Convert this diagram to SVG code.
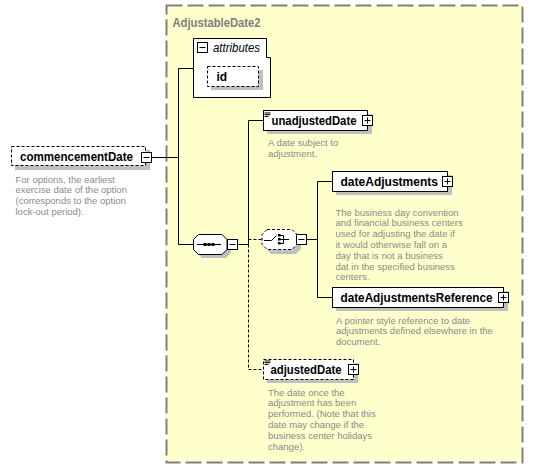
<svg xmlns="http://www.w3.org/2000/svg" width="533" height="469" viewBox="0 0 533 469">
<style>
.bg{fill:#FFFFFF}
.cont{fill:#FFFFCC;stroke:#808080;stroke-width:2;stroke-dasharray:16,5}
.title{font-family:"Liberation Sans",Arial,sans-serif;font-weight:bold;font-size:12px;fill:#808080}
.box{fill:#FFFFFF;stroke:#000000;stroke-width:1}
.dbox{fill:#FFFFFF;stroke:#000000;stroke-width:1;stroke-dasharray:3,2}
.shadow{fill:#C0C0C0}
.lbl{font-family:"Liberation Sans",Arial,sans-serif;font-weight:bold;font-size:12px;fill:#000000}
.ital{font-family:"Liberation Sans",Arial,sans-serif;font-style:italic;font-size:12px;fill:#000000}
.desc{font-family:"Liberation Sans",Arial,sans-serif;font-size:9.5px;fill:#8A8A8A}
.ln{fill:none;stroke:#000000;stroke-width:1}
.dln{fill:none;stroke:#000000;stroke-width:1;stroke-dasharray:3,2}
.btn{fill:#FFFFFF;stroke:#000000;stroke-width:1}
</style>
<defs>
<g id="minus"><rect class="btn" x="0" y="0" width="10" height="10"/><path class="ln" d="M2,5H8"/></g>
<g id="plus"><rect class="btn" x="0" y="0" width="10" height="10"/><path class="ln" d="M2,5H8M5,2V8"/></g>
<g id="mark"><path class="ln" d="M0,0H6M0,1.7H6M0,3.4H4"/></g>
</defs>
<rect class="bg" x="0" y="0" width="533" height="469"/>

<g id="AdjustableDate2">
<rect class="cont" x="166.5" y="5.5" width="356" height="457"/>
<text class="title" x="172.5" y="26.5" textLength="88" lengthAdjust="spacingAndGlyphs">AdjustableDate2</text>
</g>

<g id="connectors">
<path class="ln" d="M151,157.5H178.5M178.5,68.5V244.5M178.5,68.5H193M178.5,244.5H193"/>
<path class="ln" d="M238,244.5H248.5M248.5,120.5V244.5M248.5,120.5H263"/>
<path class="dln" d="M248.5,239.5H262M248.5,244.5V369.5H263"/>
<path class="ln" d="M307,239.5H317.5M317.5,181.5V297.5M317.5,181.5H332M317.5,297.5H332"/>
</g>

<g id="commencementDate">
<rect class="shadow" x="15" y="150" width="135" height="20"/>
<rect class="dbox" x="11.5" y="146.5" width="134" height="19"/>
<text class="lbl" x="20" y="160.5" textLength="113" lengthAdjust="spacingAndGlyphs">commencementDate</text>
<use href="#minus" x="141.5" y="152.5"/>
<text class="desc"><tspan x="15.5" y="182.5">For options, the earliest</tspan><tspan x="15.5" y="193.3">exercise date of the option</tspan><tspan x="15.5" y="204.1">(corresponds to the option</tspan><tspan x="15.5" y="214.9">lock-out period).</tspan></text>
</g>

<g id="attributes">
<path class="box" d="M193.5,38.5H266.5V57.5H270.5V97.5H193.5Z"/>
<use href="#minus" x="197.5" y="42.5"/>
<text class="ital" x="213" y="52" textLength="47" lengthAdjust="spacingAndGlyphs">attributes</text>
</g>

<g id="id">
<rect class="shadow" x="211" y="70" width="52" height="20"/>
<rect class="dbox" x="207.5" y="66.5" width="51" height="20"/>
<text class="lbl" x="216.5" y="81">id</text>
</g>

<g id="sequence">
<path class="shadow" d="M202,238H226L231,243V253L226,258H202L197,253V243Z"/>
<path class="box" d="M198.5,234.5H222L227,239.5V249.5L222,254.5H198.5L193.5,249.5V239.5Z"/>
<path class="ln" d="M197,244.5H221"/>
<rect x="203.5" y="243" width="3" height="3" fill="#000"/>
<rect x="207.5" y="243" width="3" height="3" fill="#000"/>
<rect x="211.5" y="243" width="3" height="3" fill="#000"/>
<use href="#minus" x="227.5" y="239.5"/>
</g>

<g id="choice">
<path class="shadow" d="M271,233H296L301,238V249L296,254H271L266,249V238Z"/>
<path class="dbox" d="M267,229.5H292L297,234.5V244.5L292,249.5H267L262,244.5V234.5Z"/>
<path class="ln" d="M264,240.5H271.5L276.5,235.5"/>
<rect x="278" y="234" width="2.5" height="2.5" fill="#000"/>
<rect x="278" y="238" width="2.5" height="2.5" fill="#000"/>
<rect x="278" y="242" width="2.5" height="2.5" fill="#000"/>
<path class="ln" d="M280,235.5H283.5V243.5H280M280,239.5H289"/>
<use href="#minus" x="296.5" y="234.5"/>
</g>

<g id="unadjustedDate">
<rect class="shadow" x="267" y="114" width="105" height="20"/>
<rect class="box" x="263.5" y="110.5" width="104" height="20"/>
<use href="#mark" x="264.5" y="113"/>
<text class="lbl" x="271.5" y="125" textLength="85" lengthAdjust="spacingAndGlyphs">unadjustedDate</text>
<use href="#plus" x="362.5" y="115.5"/>
<text class="desc"><tspan x="268" y="146">A date subject to</tspan><tspan x="268" y="156.8">adjustment.</tspan></text>
</g>

<g id="dateAdjustments">
<rect class="shadow" x="336" y="175" width="116" height="20"/>
<rect class="box" x="332.5" y="171.5" width="115" height="20"/>
<text class="lbl" x="340.5" y="186" textLength="97.5" lengthAdjust="spacingAndGlyphs">dateAdjustments</text>
<use href="#plus" x="442.5" y="176.5"/>
<text class="desc"><tspan x="335.5" y="215.5">The business day convention</tspan><tspan x="335.5" y="226.3">and financial business centers</tspan><tspan x="335.5" y="237.1">used for adjusting the date if</tspan><tspan x="335.5" y="247.9">it would otherwise fall on a</tspan><tspan x="335.5" y="258.7">day that is not a business</tspan><tspan x="335.5" y="269.5">dat in the specified business</tspan><tspan x="335.5" y="280.3">centers.</tspan></text>
</g>

<g id="dateAdjustmentsReference">
<rect class="shadow" x="336" y="291" width="172" height="20"/>
<rect class="box" x="332.5" y="287.5" width="171" height="20"/>
<text class="lbl" x="340.5" y="302" textLength="152" lengthAdjust="spacingAndGlyphs">dateAdjustmentsReference</text>
<use href="#plus" x="498.5" y="292.5"/>
<text class="desc"><tspan x="336" y="323.5">A pointer style reference to date</tspan><tspan x="336" y="334.3">adjustments defined elsewhere in the</tspan><tspan x="336" y="345.1">document.</tspan></text>
</g>

<g id="adjustedDate">
<rect class="shadow" x="267" y="363" width="91" height="20"/>
<rect class="dbox" x="263.5" y="359.5" width="90" height="20"/>
<use href="#mark" x="264.5" y="361"/>
<text class="lbl" x="270.5" y="374" textLength="71" lengthAdjust="spacingAndGlyphs">adjustedDate</text>
<use href="#plus" x="348.5" y="364.5"/>
<text class="desc"><tspan x="268" y="395.5">The date once the</tspan><tspan x="268" y="406.4">adjustment has been</tspan><tspan x="268" y="417.3">performed. (Note that this</tspan><tspan x="268" y="428.2">date may change if the</tspan><tspan x="268" y="439.1">business center holidays</tspan><tspan x="268" y="450">change).</tspan></text>
</g>
</svg>
